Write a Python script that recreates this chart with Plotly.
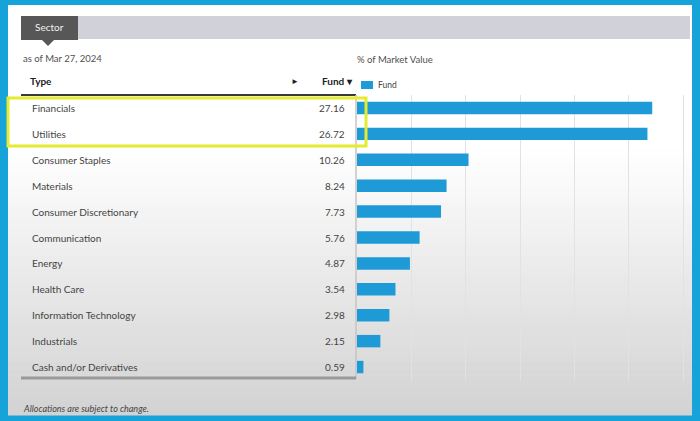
import plotly.graph_objects as go

W, H = 700, 421

# ---- data ----
sectors = ["Financials", "Utilities", "Consumer Staples", "Materials",
           "Consumer Discretionary", "Communication", "Energy", "Health Care",
           "Information Technology", "Industrials", "Cash and/or Derivatives"]
fund_pct = [27.16, 26.72, 10.26, 8.24, 7.73, 5.76, 4.87, 3.54, 2.98, 2.15, 0.59]
x_ticks = [0, 5, 10, 15, 20, 25, 30]

BLUE = "#1e9bd6"
TXT = "#444444"
FONT = "Lato"

def px(x):
    return x / W

def py(y):
    return 1 - y / H

shapes = []

def rect(x0, y0, x1, y1, fill, line=None, lw=0, layer="below"):
    shapes.append(dict(type="rect", xref="paper", yref="paper",
                       x0=px(x0), x1=px(x1), y0=py(y1), y1=py(y0),
                       fillcolor=fill, line=dict(color=line or fill, width=lw),
                       layer=layer))

def line(x0, y0, x1, y1, color, lw, layer="below"):
    shapes.append(dict(type="line", xref="paper", yref="paper",
                       x0=px(x0), x1=px(x1), y0=py(y0), y1=py(y1),
                       line=dict(color=color, width=lw), layer=layer))

# white panel with gradient to grey at the bottom
rect(8, 5, 692, 415, "#ffffff")
g0, g1 = 150, 415
n = 40
for i in range(n):
    y0 = g0 + (g1 - g0) * i / n
    y1 = g0 + (g1 - g0) * (i + 1) / n
    t = (i + 0.5) / n
    c = int(round(255 - (255 - 210) * t))
    rect(8, y0, 692, y1 + 0.5, f"rgb({c},{c},{c})")

# tab bar
rect(21, 16, 690, 39, "#d1d1d9")
rect(21, 16, 78, 40, "#575757")
shapes.append(dict(type="path", xref="paper", yref="paper",
                   path=f"M {px(42)},{py(40)} L {px(54)},{py(40)} L {px(48)},{py(46)} Z",
                   fillcolor="#575757", line=dict(width=0), layer="below"))

# table header underline, right border and bottom border
line(21, 95, 356, 95, "#3a3a3a", 2)
line(356, 95, 356, 379, "#c4c4c4", 1.5, layer="above")
line(21, 378, 356, 378, "#9a9a9a", 3, layer="above")

# highlight box
shapes.append(dict(type="rect", xref="paper", yref="paper",
                   x0=px(8), x1=px(366), y0=py(146), y1=py(98),
                   line=dict(color="#e3ec2e", width=3), fillcolor="rgba(0,0,0,0)",
                   layer="above"))

# legend swatch
rect(361, 81, 373, 89, BLUE)

fig = go.Figure(go.Bar(
    x=fund_pct, y=sectors, orientation="h", width=0.48,
    marker=dict(color=BLUE, line=dict(width=0)), name="Fund", showlegend=False,
    hoverinfo="x+y"))

annotations = []

def text(x, y, s, size=10, color=TXT, anchor="left", bold=False, italic=False):
    if bold:
        s = f"<b>{s}</b>"
    if italic:
        s = f"<i>{s}</i>"
    annotations.append(dict(xref="paper", yref="paper", x=px(x), y=py(y), text=s,
                            showarrow=False, xanchor=anchor, yanchor="middle",
                            font=dict(family=FONT, size=size, color=color)))

text(49, 27, "Sector", size=10, color="#f2f2f2", anchor="center")
text(21, 58, "as of Mar 27, 2024", size=9.5, color="#505050")
text(355, 59, "% of Market Value", size=9.5, color="#505050")
text(28, 81, "Type", size=10, color="#222222", bold=True)
text(295, 81, "►", size=8, color="#222222", anchor="center")
text(355, 81, "Fund ▾", size=10, color="#222222", anchor="right", bold=True)
text(376, 85, "Fund", size=8.5, color="#444444")
text(21, 408, "Allocations are subject to change.", size=9, color="#444444", italic=True)

for s, v in zip(sectors, fund_pct):
    annotations.append(dict(xref="paper", yref="y", x=px(30), y=s, text=s,
                            showarrow=False, xanchor="left", yanchor="middle",
                            font=dict(family=FONT, size=10, color=TXT)))
    annotations.append(dict(xref="paper", yref="y", x=px(347), y=s, text=f"{v:.2f}",
                            showarrow=False, xanchor="right", yanchor="middle",
                            font=dict(family=FONT, size=10, color=TXT)))

x_end = 30.2
x0_px, scale = 357, 10.87
fig.update_layout(
    width=W, height=H, margin=dict(l=0, r=0, t=0, b=0),
    paper_bgcolor="#16a3da", plot_bgcolor="rgba(0,0,0,0)",
    font=dict(family=FONT),
    shapes=shapes, annotations=annotations,
    bargap=0.5,
    xaxis=dict(domain=[px(x0_px), px(x0_px + scale * x_end)], range=[0, x_end],
               tickvals=x_ticks, showticklabels=False, showgrid=True,
               gridcolor="#e2e2e2", gridwidth=1, zeroline=False, showline=False,
               fixedrange=True),
    yaxis=dict(domain=[py(380), py(95)], range=[10.5, -0.5],
               categoryorder="array", categoryarray=sectors,
               showticklabels=False, showgrid=False, zeroline=False,
               showline=False, fixedrange=True),
)

fig.write_html("out.html")
